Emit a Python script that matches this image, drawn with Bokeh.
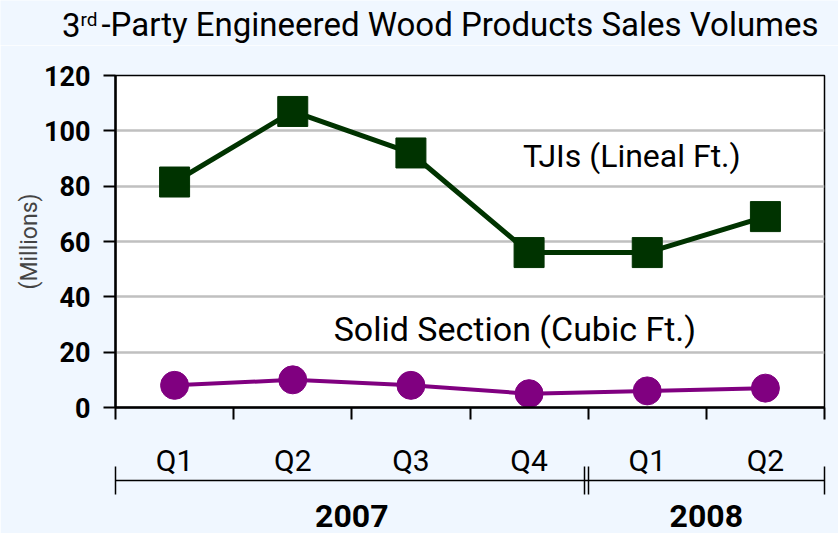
from bokeh.plotting import figure
from bokeh.models import (FixedTicker, Label, LinearAxis, ColumnDataSource, Range1d)
from bokeh.layouts import column
from bokeh.embed import file_html
from bokeh.resources import INLINE

# ---- data ----
quarters = ["Q1", "Q2", "Q3", "Q4", "Q1", "Q2"]
years = ["2007", "2008"]
year_bounds = [0, 4, 6]
tji_values = [81.5, 107, 92, 56, 56, 69]
solid_values = [8, 10, 8, 5, 6, 7]
y_ticks = [0, 20, 40, 60, 80, 100, 120]
grid_ticks = [20, 40, 60, 80, 100]
title_main = "-Party Engineered Wood Products Sales Volumes"
title_num = "3"
title_sup = "rd"
tji_label = "TJIs (Lineal Ft.)"
solid_label = "Solid Section (Cubic Ft.)"
y_axis_label = "(Millions)"

FONT = "Roboto"
BG = "#F0F7FF"
GREEN = "#003300"
PURPLE = "#800080"

W, H, TITLE_H = 838, 533, 45

n = len(quarters)
x_pos = [i + 0.5 for i in range(n)]
year_centers = [(year_bounds[i] + year_bounds[i + 1]) / 2 for i in range(len(years))]

# ---------------- title strip ----------------
t = figure(width=W, height=TITLE_H, output_backend="svg", toolbar_location=None,
           x_range=Range1d(0, W), y_range=Range1d(TITLE_H, 0),
           min_border=0, min_border_left=0, min_border_right=0,
           min_border_top=0, min_border_bottom=0)
t.frame_align = False
t.axis.visible = False
t.grid.visible = False
t.outline_line_color = None
t.background_fill_color = BG
t.border_fill_color = BG
t.add_layout(Label(x=80, y=24, text=title_num, text_align="right",
                   text_baseline="middle", text_font=FONT,
                   text_font_size="33px", text_color="black"))
t.add_layout(Label(x=80, y=19, text=title_sup, text_align="left",
                   text_baseline="middle", text_font=FONT,
                   text_font_size="19px", text_color="black"))
t.add_layout(Label(x=101, y=24, text=title_main, text_align="left",
                   text_baseline="middle", text_font=FONT,
                   text_font_size="33px", text_color="black"))

# ---------------- main chart ----------------
p = figure(width=W, height=H - TITLE_H, output_backend="svg", toolbar_location=None,
           x_range=(0, n), y_range=(0, 120))
p.frame_align = False
p.min_border_left = 115
p.min_border_right = 14
p.min_border_top = 75 - TITLE_H
p.min_border_bottom = 126
p.border_fill_color = BG
p.background_fill_color = "white"
p.outline_line_color = "black"
p.outline_line_width = 1.5

# y axis
p.yaxis.ticker = FixedTicker(ticks=y_ticks)
p.yaxis.minor_tick_line_color = None
p.yaxis.major_tick_in = 0
p.yaxis.major_tick_out = 12
p.yaxis.major_tick_line_width = 2
p.yaxis.axis_line_width = 2.5
p.yaxis.major_label_text_font = FONT
p.yaxis.major_label_text_font_style = "bold"
p.yaxis.major_label_text_font_size = "27px"
p.yaxis.major_label_text_color = "black"
p.yaxis.major_label_standoff = 13
p.yaxis.axis_label = y_axis_label
p.yaxis.axis_label_text_font = FONT
p.yaxis.axis_label_text_font_style = "normal"
p.yaxis.axis_label_text_font_size = "23px"
p.yaxis.axis_label_standoff = -2

# x axis: quarter labels at centers, tick marks at category boundaries
p.xaxis.ticker = FixedTicker(ticks=x_pos, minor_ticks=list(range(n + 1)))
p.xaxis.major_label_overrides = {x: q for x, q in zip(x_pos, quarters)}
p.xaxis.major_tick_line_color = None
p.xaxis.major_tick_in = 0
p.xaxis.major_tick_out = 0
p.xaxis.minor_tick_line_color = "black"
p.xaxis.minor_tick_line_width = 2
p.xaxis.minor_tick_in = 0
p.xaxis.minor_tick_out = 12
p.xaxis.axis_line_width = 2.5
p.xaxis.major_label_standoff = 23
p.xaxis.major_label_text_font = FONT
p.xaxis.major_label_text_font_size = "30px"
p.xaxis.major_label_text_color = "black"

# year bracket axis: horizontal line with tee marks at year boundaries
br_ticks = [year_bounds[0]] + [b - 0.034 for b in year_bounds[1:-1]] + year_bounds[1:]
br_axis = LinearAxis(ticker=FixedTicker(ticks=[], minor_ticks=br_ticks),
                     axis_line_color="black", axis_line_width=1.5,
                     major_tick_line_color=None, major_tick_in=0, major_tick_out=14,
                     minor_tick_line_color="black", minor_tick_line_width=1.5,
                     minor_tick_in=14, minor_tick_out=14,
                     major_label_standoff=0)
p.add_layout(br_axis, "below")

# year labels axis
yr_axis = LinearAxis(ticker=FixedTicker(ticks=year_centers),
                     major_label_overrides={x: y for x, y in zip(year_centers, years)},
                     axis_line_color=None, major_tick_line_color=None,
                     minor_tick_line_color=None, major_tick_out=0, major_tick_in=0,
                     major_label_standoff=10,
                     major_label_text_font=FONT, major_label_text_font_style="bold",
                     major_label_text_font_size="32px",
                     major_label_text_color="black")
p.add_layout(yr_axis, "below")

p.xgrid.grid_line_color = None
p.ygrid.ticker = FixedTicker(ticks=grid_ticks)
p.ygrid.grid_line_color = "#C0C0C0"
p.ygrid.grid_line_width = 2.5

# series
src_t = ColumnDataSource(dict(x=x_pos, y=tji_values))
src_s = ColumnDataSource(dict(x=x_pos, y=solid_values))
p.line("x", "y", source=src_t, line_color=GREEN, line_width=5)
p.scatter("x", "y", source=src_t, marker="square", size=30,
          fill_color=GREEN, line_color=GREEN)
p.line("x", "y", source=src_s, line_color=PURPLE, line_width=4)
p.scatter("x", "y", source=src_s, marker="circle", size=28,
          fill_color=PURPLE, line_color=PURPLE)

# series labels
p.add_layout(Label(x=4.37, y=91, text=tji_label, text_align="center",
                   text_baseline="middle", text_font=FONT,
                   text_font_size="32px", text_color="black"))
p.add_layout(Label(x=3.38, y=28.5, text=solid_label, text_align="center",
                   text_baseline="middle", text_font=FONT,
                   text_font_size="34px", text_color="black"))

layout = column(t, p, spacing=0)
html = file_html(layout, INLINE)
html = html.replace("<body>", '<body style="margin:0;background:%s;overflow:hidden;">' % BG, 1)
open("out.html", "w").write(html)
